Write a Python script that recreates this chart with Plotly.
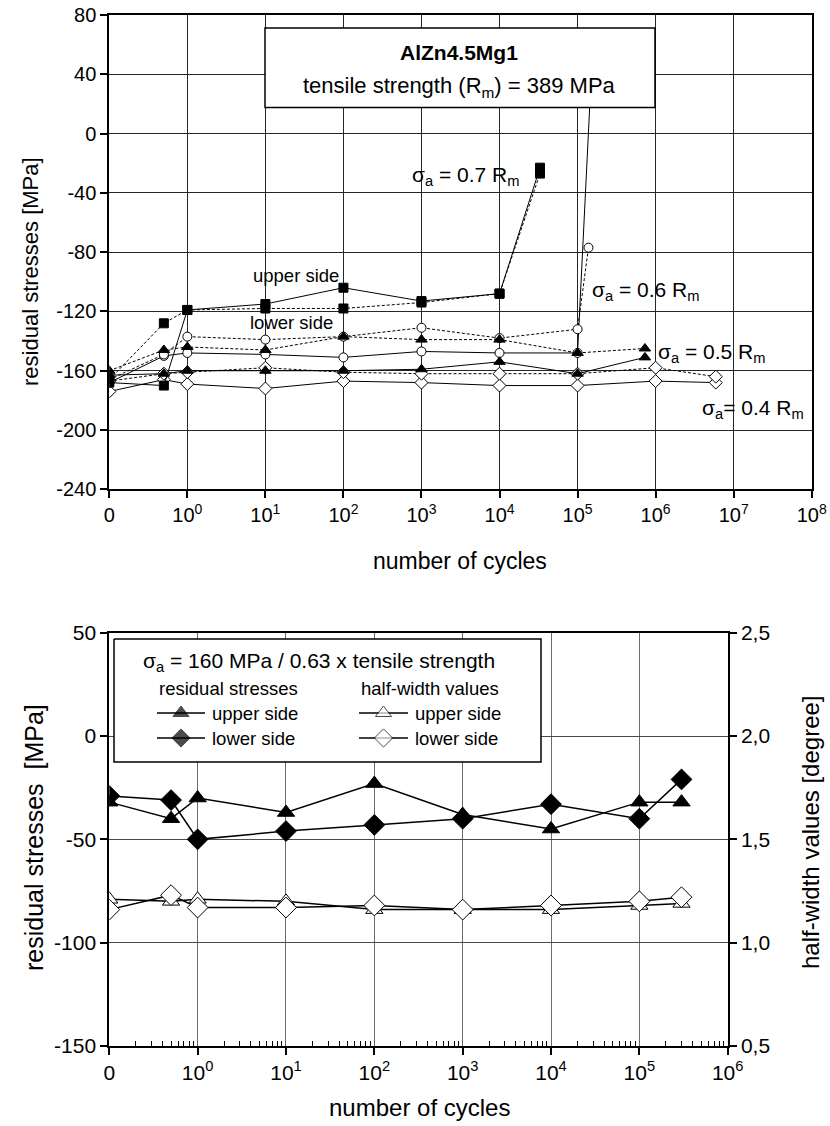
import plotly.graph_objects as go

W, H = 830, 1126
FONT = "Liberation Sans, Arial, sans-serif"

# ---------------- top chart data: number of cycles / residual stresses [MPa] ----------------
cyc_07 = [0, 0.5, 1, 10, 100, 1000, 1e4, 3.3e4]
rs_07_upper = [-168, -170, -119, -115, -104, -113, -108, -23]
rs_07_lower = [-166, -128, -119, -118, -118, -114, -108, -27]

cyc_06_upper = [0, 0.5, 1, 10, 100, 1000, 1e4, 1e5, 1.5e5]
rs_06_upper = [-168, -150, -148, -149, -151, -147, -148, -148, 40]
cyc_06_lower = [0, 0.5, 1, 10, 100, 1000, 1e4, 1e5, 1.38e5]
rs_06_lower = [-166, -149, -137, -139, -137, -131, -138, -132, -77]

cyc_05 = [0, 0.5, 1, 10, 100, 1000, 1e4, 1e5, 7.3e5]
rs_05_upper = [-163, -162, -160, -160, -160, -159, -154, -162, -151]
rs_05_lower = [-160, -146, -144, -146, -137, -139, -139, -148, -145]

cyc_04 = [0, 0.5, 1, 10, 100, 1000, 1e4, 1e5, 1e6, 5.9e6]
rs_04_upper = [-174, -166, -169, -172, -167, -168, -170, -170, -167, -168]
rs_04_lower = [-167, -162, -161, -158, -161, -162, -162, -162, -158, -164]

top_xticks = [0, 1, 10, 100, 1e3, 1e4, 1e5, 1e6, 1e7, 1e8]
top_xlabels = ["0"] + ["10<sup>%d</sup>" % k for k in range(9)]
top_yticks = [-240, -200, -160, -120, -80, -40, 0, 40, 80]

# ---------------- bottom chart data ----------------
cyc_b = [0, 0.5, 1, 10, 100, 1000, 1e4, 1e5, 3e5]
rs_upper = [-32, -40, -30, -37, -23, -38, -45, -32, -32]
rs_lower = [-29, -31, -50, -46, -43, -40, -33, -40, -21]
hw_upper = [1.21, 1.20, 1.21, 1.20, 1.16, 1.16, 1.16, 1.18, 1.19]
hw_lower = [1.16, 1.23, 1.17, 1.17, 1.18, 1.16, 1.18, 1.20, 1.22]

bot_xticks = [0, 1, 10, 100, 1e3, 1e4, 1e5, 1e6]
bot_xlabels = ["0"] + ["10<sup>%d</sup>" % k for k in range(7)]
bot_yticks = [-150, -100, -50, 0, 50]
bot_y2ticks = [0.5, 1.0, 1.5, 2.0, 2.5]
bot_y2labels = ["0,5", "1,0", "1,5", "2,0", "2,5"]

ZERO_POS = 0.1  # position of the "0 cycles" tick on the log axis


def xp(c):
    return [v if v > 0 else ZERO_POS for v in c]


fig = go.Figure()

SOLID = dict(color="black", width=1)
DASH = dict(color="black", width=1, dash="3px,2px")


def mk(symbol, size, filled):
    return dict(symbol=symbol, size=size, color="black" if filled else "white",
                line=dict(color="black", width=1))


top_series = [
    (cyc_04, rs_04_upper, SOLID, mk("diamond", 10, False)),
    (cyc_04, rs_04_lower, DASH, mk("diamond", 10, False)),
    (cyc_06_upper, rs_06_upper, SOLID, mk("circle", 9, False)),
    (cyc_06_lower, rs_06_lower, DASH, mk("circle", 9, False)),
    (cyc_05, rs_05_upper, SOLID, mk("triangle-up", 10, True)),
    (cyc_05, rs_05_lower, DASH, mk("triangle-up", 10, True)),
    (cyc_07, rs_07_upper, SOLID, mk("square", 9, True)),
    (cyc_07, rs_07_lower, DASH, mk("square", 9, True)),
]
for cx, cy, ln, mkr in top_series:
    fig.add_trace(go.Scatter(x=xp(cx), y=cy, mode="lines+markers", line=ln, marker=mkr,
                             xaxis="x", yaxis="y", showlegend=False, hoverinfo="skip"))

BL = dict(color="black", width=1.5)
fig.add_trace(go.Scatter(x=xp(cyc_b), y=hw_upper, mode="lines+markers", line=BL,
                         marker=mk("triangle-up", 15, False), xaxis="x2", yaxis="y3"))
fig.add_trace(go.Scatter(x=xp(cyc_b), y=hw_lower, mode="lines+markers", line=BL,
                         marker=mk("diamond", 16, False), xaxis="x2", yaxis="y3"))
fig.add_trace(go.Scatter(x=xp(cyc_b), y=rs_upper, mode="lines+markers", line=BL,
                         marker=mk("triangle-up", 15, True), xaxis="x2", yaxis="y2"))
fig.add_trace(go.Scatter(x=xp(cyc_b), y=rs_lower, mode="lines+markers", line=BL,
                         marker=mk("diamond", 16, True), xaxis="x2", yaxis="y2"))

# legend frame + glyphs of the bottom chart (pixel overlay)
LB = (114, 541, 639, 762)
fig.add_trace(go.Scatter(x=[LB[0], LB[1], LB[1], LB[0], LB[0]],
                         y=[LB[2], LB[2], LB[3], LB[3], LB[2]],
                         mode="lines", fill="toself", fillcolor="white",
                         line=dict(color="black", width=1.5),
                         xaxis="x3", yaxis="y4", showlegend=False, hoverinfo="skip"))
glyphs = [
    (157, 205, 713, mk("triangle-up", 14, True)),
    (157, 205, 738, mk("diamond", 14, True)),
    (359, 408, 713, mk("triangle-up", 14, False)),
    (359, 408, 738, mk("diamond", 14, False)),
]
for x0, x1, yy, mkr in glyphs:
    m = dict(mkr)
    m["size"] = [0, mkr["size"], 0]
    fig.add_trace(go.Scatter(x=[x0, (x0 + x1) / 2, x1], y=[yy, yy, yy], mode="lines+markers",
                             line=dict(color="black", width=1.5), marker=m,
                             xaxis="x3", yaxis="y4", showlegend=False, hoverinfo="skip"))

TOPF = dict(size=20, color="black", family=FONT)
BOTF = dict(size=21, color="black", family=FONT)

# plot area pixel boxes
TX0, TX1, TY0, TY1 = 109.3, 811.7, 15, 489.3
BX0, BX1, BY0, BY1 = 109.3, 727.7, 632.7, 1046

common_ax = dict(showline=True, linecolor="black", linewidth=2, ticks="outside", ticklen=7,
                 tickwidth=1.5, tickcolor="black", zeroline=False, automargin=False)

fig.update_layout(
    width=W, height=H, margin=dict(l=0, r=0, t=0, b=0, pad=0, autoexpand=False),
    autosize=False,
    paper_bgcolor="white", plot_bgcolor="rgba(0,0,0,0)", showlegend=False,
    font=dict(family=FONT, color="black"),
    xaxis=dict(type="log", range=[-1, 8], domain=[TX0 / W, TX1 / W], anchor="y",
               tickmode="array", tickvals=xp(top_xticks), ticktext=top_xlabels, tickfont=TOPF,
               showgrid=True, gridcolor="#262626", gridwidth=1, mirror=True, **common_ax),
    yaxis=dict(range=[-240, 80], domain=[1 - TY1 / H, 1 - TY0 / H], anchor="x",
               tickmode="array", tickvals=top_yticks, ticktext=[str(v) for v in top_yticks],
               tickfont=TOPF,
               showgrid=True, gridcolor="#262626", gridwidth=1, mirror=True, **common_ax),
    xaxis2=dict(type="log", range=[-1, 6], domain=[BX0 / W, BX1 / W], anchor="y2",
                tickmode="array", tickvals=xp(bot_xticks), ticktext=bot_xlabels, tickfont=BOTF,
                showgrid=True, gridcolor="#6a6a6a", gridwidth=1, mirror=True,
                **common_ax),
    yaxis2=dict(range=[-150, 50], domain=[1 - BY1 / H, 1 - BY0 / H], anchor="x2",
                tickmode="array", tickvals=bot_yticks, ticktext=[str(v) for v in bot_yticks],
                tickfont=BOTF,
                showgrid=True, gridcolor="#4a4a4a", gridwidth=1, **common_ax),
    yaxis3=dict(range=[0.5, 2.5], overlaying="y2", side="right", anchor="x2",
                tickmode="array", tickvals=bot_y2ticks, ticktext=bot_y2labels, tickfont=BOTF,
                showgrid=False, **common_ax),
    xaxis3=dict(domain=[0, 1], range=[0, W], anchor="y4", visible=False, fixedrange=True),
    yaxis4=dict(domain=[0, 1], range=[H, 0], anchor="x3", visible=False, fixedrange=True),
)

# minor log ticks (inside) on the bottom x axis
minor_vals = [m * 10 ** k for k in range(-1, 6) for m in range(2, 10)]
fig.update_layout(xaxis2_minor=dict(tickmode="array", tickvals=minor_vals, ticks="inside",
                                    ticklen=5, tickwidth=1, tickcolor="black", showgrid=False))


def ann(text, x, y, size=17, xanchor="center", yanchor="middle", angle=0):
    return dict(text=text, x=x / W, y=1 - y / H, xref="paper", yref="paper", showarrow=False,
                xanchor=xanchor, yanchor=yanchor, textangle=angle,
                font=dict(size=size, color="black", family=FONT))


S = "σ<sub>a</sub>"
annotations = [
    # top chart
    ann("residual stresses [MPa]", 30, 272, size=22, angle=-90),
    ann("number of cycles", 460, 561, size=23),
    ann("<b>AlZn4.5Mg1</b>", 459, 53, size=21),
    ann("tensile strength (R<sub>m</sub>) = 389 MPa", 459, 87, size=22),
    ann(S + " = 0.7 R<sub>m</sub>", 410, 176, size=21, xanchor="left"),
    ann(S + " = 0.6 R<sub>m</sub>", 590, 291, size=21, xanchor="left"),
    ann(S + " = 0.5 R<sub>m</sub>", 656, 353, size=21, xanchor="left"),
    ann(S + "= 0.4 R<sub>m</sub>", 700, 409, size=21, xanchor="left"),
    ann("upper side", 296, 275, size=18.5),
    ann("lower side", 291, 322, size=18.5),
    # bottom chart
    ann("residual stresses  [MPa]", 34, 838, size=25, angle=-90),
    ann("half-width values [degree]", 810, 832, size=24, angle=-90),
    ann("number of cycles", 420, 1107, size=24),
    ann(S + " = 160 MPa / 0.63 x tensile strength", 141, 662, size=21, xanchor="left"),
    ann("residual stresses", 157, 688, size=18.5, xanchor="left"),
    ann("half-width values", 359, 688, size=18.5, xanchor="left"),
    ann("upper side", 210, 713, size=18.5, xanchor="left"),
    ann("lower side", 210, 738, size=18.5, xanchor="left"),
    ann("upper side", 413, 713, size=18.5, xanchor="left"),
    ann("lower side", 413, 738, size=18.5, xanchor="left"),
]
fig.update_layout(annotations=annotations)

shapes = [
    dict(type="rect", xref="paper", yref="paper", x0=265 / W, x1=655 / W,
         y0=1 - 107.5 / H, y1=1 - 28 / H, fillcolor="white",
         line=dict(color="black", width=1.5), layer="above"),
]
fig.update_layout(shapes=shapes)

fig.write_html("out.html",
               post_script="document.body.style.margin='0';document.body.style.overflow='hidden';")
